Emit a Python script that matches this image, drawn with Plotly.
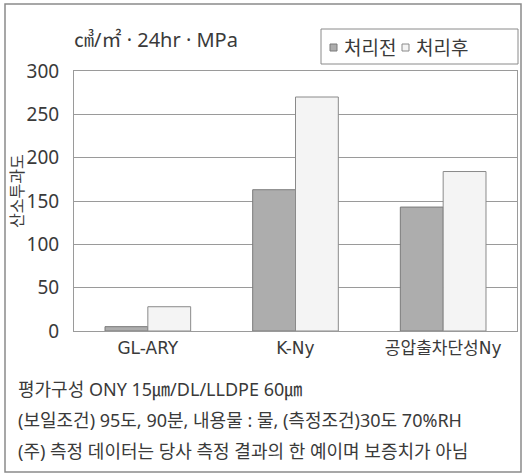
import plotly.graph_objects as go

# Oxygen transmission rate before / after retort treatment
categories = ["GL-ARY", "K-Ny", "공압출차단성Ny"]
before_treatment = [5, 163, 143]
after_treatment = [28, 270, 184]
series_names = ["처리전", "처리후"]
series_colors = ["#adadad", "#f4f4f4"]
series_edges = ["#7a7a7a", "#8a8a8a"]
y_ticks = [0, 50, 100, 150, 200, 250, 300]

W, H = 522, 475
L, R, T, B = 74, 5, 71, 144
PW, PH = W - L - R, H - T - B

FONT = "Noto Sans, Noto Sans CJK KR"
KR = "Noto Sans CJK KR"
TXT = "#3a3a3a"
LINE = "#9a9a9a"


def px(x):
    return (x - L) / PW


def py(y):
    return 1 - (y - T) / PH


fig = go.Figure()
for name, vals, col, edge in zip(series_names, [before_treatment, after_treatment],
                                 series_colors, series_edges):
    fig.add_trace(go.Bar(
        x=categories, y=vals, name=name,
        marker=dict(color=col, line=dict(color=edge, width=1)),
    ))

fig.update_layout(
    width=W, height=H,
    margin=dict(l=L, r=R, t=T, b=B),
    paper_bgcolor="white", plot_bgcolor="white",
    barmode="group", bargap=0.42, bargroupgap=0,
    font=dict(family=FONT, color=TXT, size=16),
    showlegend=False,
)

fig.update_xaxes(
    showline=True, linecolor=LINE, linewidth=1, mirror=True,
    ticks="", ticklabelstandoff=2,
    tickfont=dict(size=17, color=TXT, family="DejaVu Sans, Noto Sans CJK KR"),
)
fig.update_yaxes(
    range=[0, 300], tickvals=y_ticks,
    showgrid=True, gridcolor=LINE, gridwidth=1,
    showline=True, linecolor=LINE, linewidth=1, mirror=True,
    zeroline=False, ticks="", ticklabelstandoff=10,
    tickfont=dict(size=19, color=TXT, family="Liberation Sans Narrow, Noto Sans"),
)

annotations = [
    dict(text="㎤/㎡ · 24hr · MPa", x=px(72), y=py(40), xanchor="left", yanchor="middle",
         font=dict(size=20)),
    dict(text="산소투과도", x=px(16), y=py(191), textangle=-90, xanchor="center",
         yanchor="middle", font=dict(size=16, family=KR)),
    dict(text="평가구성 ONY 15㎛/DL/LLDPE 60㎛", x=px(16), y=py(389),
         xanchor="left", yanchor="middle", font=dict(size=18)),
    dict(text="(보일조건) 95도, 90분, 내용물 : 물, (측정조건)30도 70%RH", x=px(16), y=py(420),
         xanchor="left", yanchor="middle", font=dict(size=18)),
    dict(text="(주) 측정 데이터는 당사 측정 결과의 한 예이며 보증치가 아님", x=px(16), y=py(451),
         xanchor="left", yanchor="middle", font=dict(size=18)),
]

shapes = [
    # outer frame around the whole chart
    dict(type="rect", x0=px(5), x1=px(521), y0=py(472), y1=py(4),
         line=dict(color="#8a8a8a", width=1.5), layer="below"),
    # legend box
    dict(type="rect", x0=px(321), x1=px(518), y0=py(64), y1=py(29),
         line=dict(color="#8a8a8a", width=1), fillcolor="white", layer="above"),
]

# legend entries: small swatch followed by the series name
legend_swatch_x = [330, 402]
legend_text_x = [342, 414]
for name, col, edge, sx, tx in zip(series_names, series_colors, series_edges,
                                   legend_swatch_x, legend_text_x):
    shapes.append(dict(type="rect", x0=px(sx), x1=px(sx + 7), y0=py(51), y1=py(44),
                       line=dict(color=edge, width=1), fillcolor=col, layer="above"))
    annotations.append(dict(text=name, x=px(tx), y=py(47), xanchor="left",
                            yanchor="middle", font=dict(size=19, family=KR)))

for a in annotations:
    a.update(xref="paper", yref="paper", showarrow=False)
for s in shapes:
    s.update(xref="paper", yref="paper")
fig.update_layout(annotations=annotations, shapes=shapes)

fig.write_html("out.html")
